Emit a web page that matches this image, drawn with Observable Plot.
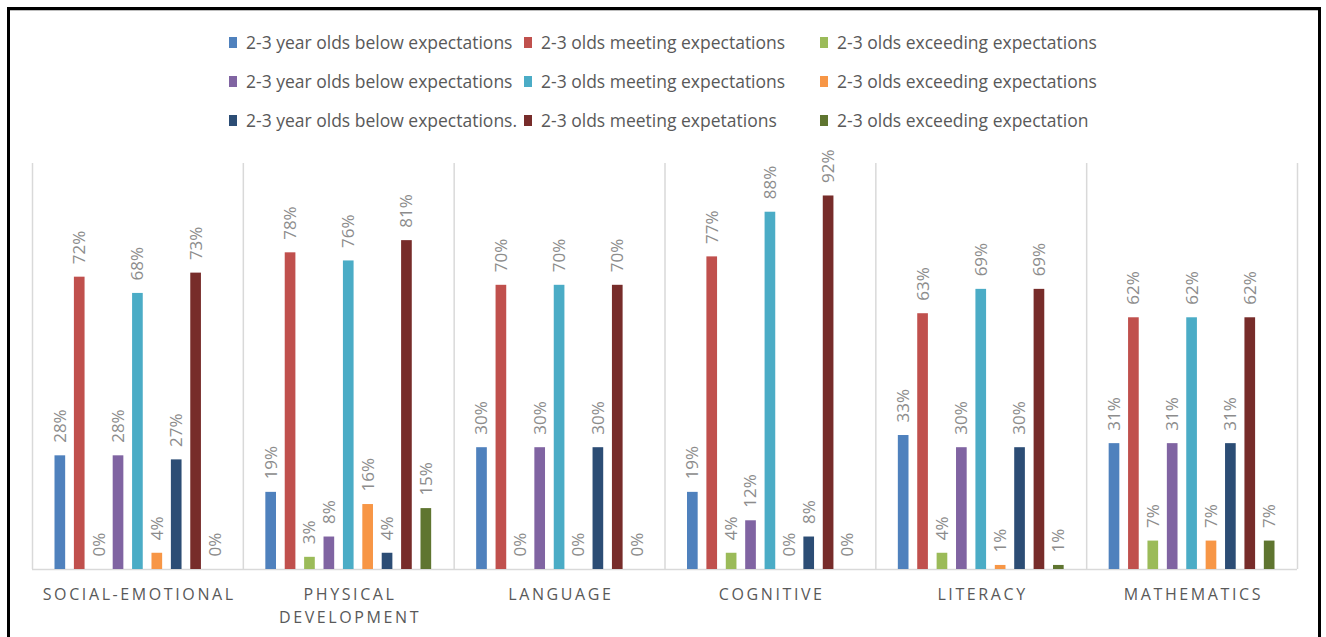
<!DOCTYPE html>
<html>
<head>
<meta charset="utf-8">
<script src="https://cdn.jsdelivr.net/npm/d3@7"></script>
<script src="https://cdn.jsdelivr.net/npm/@observablehq/plot@0.6"></script>
<style>
  body { margin: 0; background: #fff; width: 1326px; height: 637px; overflow: hidden; position: relative;
         font-family: "Open Sans", sans-serif; }
  #frame { position: absolute; left: 7px; top: 7px; width: 1314px; height: 700px;
           border: 3px solid #000; box-sizing: border-box; box-shadow: inset 0 1px 0 #bdbdbd; }
  #legend { position: absolute; left: 0; top: 0; }
  .item { position: absolute; display: flex; align-items: center; height: 22px;
          font-size: 17.5px; color: #595959; white-space: nowrap; }
  .sw { width: 8px; height: 11px; margin-right: 9px; flex: none; }
  #chart { position: absolute; left: 0; top: 135px; }
  #chart g[aria-label="x-axis tick label"] text { letter-spacing: 2.6px; }
</style>
</head>
<body>
<div id="frame"></div>
<div id="legend"></div>
<div id="chart"></div>
<script>
// Domains along the category axis
const categories = ["SOCIAL-EMOTIONAL", "PHYSICAL DEVELOPMENT", "LANGUAGE", "COGNITIVE", "LITERACY", "MATHEMATICS"];
const categoryLabels = ["SOCIAL-EMOTIONAL", "PHYSICAL\nDEVELOPMENT", "LANGUAGE", "COGNITIVE", "LITERACY", "MATHEMATICS"];

// Series names, in legend order (three groups of three)
const seriesNames = [
  "2-3 year olds below expectations", "2-3 olds meeting expectations", "2-3 olds exceeding expectations",
  "2-3 year olds below expectations", "2-3 olds meeting expectations", "2-3 olds exceeding expectations",
  "2-3 year olds below expectations.", "2-3 olds meeting expetations", "2-3 olds exceeding expectation"
];
const seriesColors = ["#4F81BD", "#C0504D", "#9BBB59", "#8064A2", "#4BACC6", "#F79646", "#2C4D75", "#772C2A", "#5F7530"];

// Share of children per domain, one array per series
const belowA   = [0.28, 0.19, 0.30, 0.19, 0.33, 0.31];
const meetingA = [0.72, 0.78, 0.70, 0.77, 0.63, 0.62];
const exceedA  = [0.00, 0.03, 0.00, 0.04, 0.04, 0.07];
const belowB   = [0.28, 0.08, 0.30, 0.12, 0.30, 0.31];
const meetingB = [0.68, 0.76, 0.70, 0.88, 0.69, 0.62];
const exceedB  = [0.04, 0.16, 0.00, 0.00, 0.01, 0.07];
const belowC   = [0.27, 0.04, 0.30, 0.08, 0.30, 0.31];
const meetingC = [0.73, 0.81, 0.70, 0.92, 0.69, 0.62];
const exceedC  = [0.00, 0.15, 0.00, 0.00, 0.01, 0.07];

const seriesValues = [belowA, meetingA, exceedA, belowB, meetingB, exceedB, belowC, meetingC, exceedC];

// Legend: three rows of three entries
const legendCols = [229, 524, 820];
const legendRows = [42, 81, 120];
const legend = document.getElementById("legend");
seriesNames.forEach((name, i) => {
  const item = document.createElement("div");
  item.className = "item";
  item.style.left = legendCols[i % 3] + "px";
  item.style.top = (legendRows[Math.floor(i / 3)] - 11) + "px";
  const sw = document.createElement("span");
  sw.className = "sw";
  sw.style.background = seriesColors[i];
  item.appendChild(sw);
  item.appendChild(document.createTextNode(name));
  legend.appendChild(item);
});

// Clustered layout: each category spans one unit; the nine series share it as sub-bands
const sub = d3.scaleBand().domain(d3.range(seriesNames.length)).range([-0.5, 0.5])
  .paddingInner(0.45).paddingOuter(1.16);

const rows = [];
categories.forEach((c, ci) => {
  seriesValues.forEach((vals, si) => {
    const x1 = ci + sub(si);
    rows.push({category: c, series: si, value: vals[ci],
               x1, x2: x1 + sub.bandwidth(), xc: x1 + sub.bandwidth() / 2});
  });
});

const pct = d3.format(".0%");

const chart = Plot.plot({
  width: 1326,
  height: 502,
  marginTop: 28,
  marginBottom: 68,
  marginLeft: 32,
  marginRight: 29,
  x: {type: "linear", domain: [-0.5, categories.length - 0.5], axis: null},
  y: {domain: [0, 1], axis: null},
  style: {fontFamily: '"Open Sans", sans-serif', overflow: "visible", background: "transparent"},
  marks: [
    // Category separators and baseline
    Plot.ruleX(d3.range(categories.length + 1).map(i => i - 0.5), {y1: 0, y2: 1, stroke: "#d9d9d9", strokeWidth: 1.5}),
    Plot.ruleY([0], {stroke: "#d9d9d9", strokeWidth: 1.5}),
    Plot.rectY(rows, {x1: "x1", x2: "x2", y: "value", fill: d => seriesColors[d.series]}),
    Plot.text(rows, {
      x: "xc", y: "value", text: d => pct(d.value),
      rotate: -90, textAnchor: "start", dy: -13,
      fill: "#8c8c8c", fontSize: 17
    }),
    Plot.axisX(d3.range(categories.length), {
      tickSize: 0, tickPadding: 15, dx: 1.3,
      tickFormat: i => categoryLabels[i],
      fontSize: 16, fill: "#595959", lineHeight: 1.4
    })
  ]
});
document.getElementById("chart").appendChild(chart);
</script>
</body>
</html>
